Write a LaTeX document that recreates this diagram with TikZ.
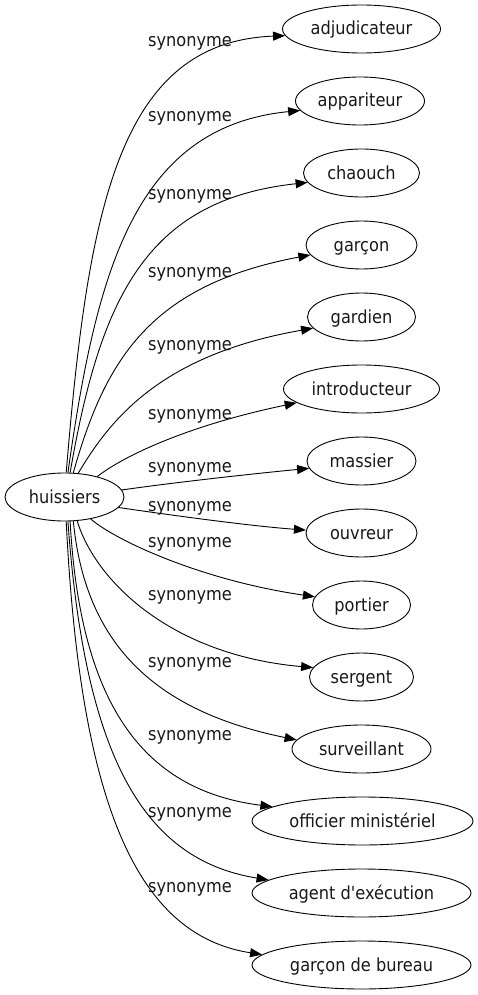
\documentclass[tikz,border=0pt]{standalone}
\usepackage{fontspec}
\setmainfont{DejaVu Sans Condensed}
\usetikzlibrary{shapes.geometric,arrows.meta}
\begin{document}
\begin{tikzpicture}[x=1pt,y=-1pt,
  every node/.style={font=\fontsize{18}{20}\selectfont, text=black!90},
  term/.style={ellipse,draw=black,line width=0.9pt,inner sep=0pt,minimum height=48pt,text height=14pt,text depth=2pt},
  lab/.style={anchor=base west,inner sep=0pt},
  syn/.style={draw=black,line width=0.9pt,-{Triangle[length=12pt,width=9pt]}}
]
\useasboundingbox (0,0) rectangle (478,995);
\fill[white] (0,0) rectangle (478,995);

\node[term,minimum width=119pt] (hu) at (64.5,497) {huissiers};
\node[term,minimum width=158pt] (n1) at (361.5,29) {adjudicateur};
\node[term,minimum width=129pt] (n2) at (360,101) {appariteur};
\node[term,minimum width=116pt] (n3) at (361.5,173) {chaouch};
\node[term,minimum width=111pt] (n4) at (361.5,245) {garçon};
\node[term,minimum width=108pt] (n5) at (361.5,317) {gardien};
\node[term,minimum width=156pt] (n6) at (361.5,389) {introducteur};
\node[term,minimum width=109pt] (n7) at (361.5,461) {massier};
\node[term,minimum width=111pt] (n8) at (361.5,533) {ouvreur};
\node[term,minimum width=98pt] (n9) at (361.5,605) {portier};
\node[term,minimum width=104pt] (n10) at (361.5,677) {sergent};
\node[term,minimum width=139pt] (n11) at (361.5,749) {surveillant};
\node[term,minimum width=221pt] (n12) at (362.5,821) {officier ministériel};
\node[term,minimum width=219pt] (n13) at (361.5,893) {agent d\textquotesingle exécution};
\node[term,minimum width=219pt] (n14) at (361.5,965) {garçon de bureau};

\draw[syn] (hu.86) .. controls (88,210) and (118,42) .. (n1.185);
\draw[syn] (hu.82) .. controls (96,275) and (133,127) .. (n2.189);
\draw[syn] (hu.77) .. controls (100,300) and (145,200) .. (n3.190);
\draw[syn] (hu.70) .. controls (105,360) and (150,285) .. (n4.191);
\draw[syn] (hu.60) .. controls (110,420) and (160,355) .. (n5.193);
\draw[syn] (hu.32) .. controls (125,455) and (190,425) .. (n6.192);
\draw[syn] (hu.7) .. controls (170,483) and (250,474) .. (n7.188);
\draw[syn] (hu.349) .. controls (170,515) and (250,526) .. (n8.177);
\draw[syn] (hu.320) .. controls (115,540) and (200,580) .. (n9.170);
\draw[syn] (hu.298) .. controls (95,580) and (170,655) .. (n10.169);
\draw[syn] (hu.290) .. controls (85,640) and (150,710) .. (n11.172);
\draw[syn] (hu.283) .. controls (80,700) and (140,790) .. (n12.171);
\draw[syn] (hu.278) .. controls (85,760) and (145,860) .. (n13.172);
\draw[syn] (hu.274) .. controls (80,800) and (135,935) .. (n14.174);

\node[lab] (l1) at (148,47) {synonyme};
\node[lab] (l2) at (148,122) {synonyme};
\node[lab] (l3) at (148,200) {synonyme};
\node[lab] (l4) at (148,277) {synonyme};
\node[lab] (l5) at (148,350) {synonyme};
\node[lab] (l6) at (148,419) {synonyme};
\node[lab] (l7) at (148,472) {synonyme};
\node[lab] (l8) at (148,511) {synonyme};
\node[lab] (l9) at (148,547) {synonyme};
\node[lab] (l10) at (148,600) {synonyme};
\node[lab] (l11) at (148,667) {synonyme};
\node[lab] (l12) at (148,740) {synonyme};
\node[lab] (l13) at (148,817) {synonyme};
\node[lab] (l14) at (148,892) {synonyme};
\end{tikzpicture}
\end{document}
